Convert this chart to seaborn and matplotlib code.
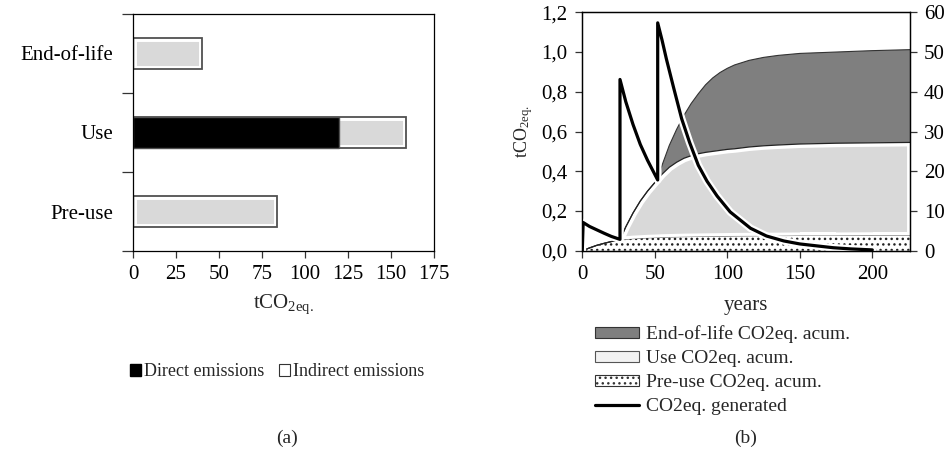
import numpy as np
import pandas as pd
import matplotlib
matplotlib.use("Agg")
import matplotlib.pyplot as plt
import matplotlib.patheffects as pe
from matplotlib.patches import Patch
from matplotlib.lines import Line2D
from matplotlib.ticker import FuncFormatter
import seaborn as sns

# ---------------- data ----------------
# panel (a)
stages = ["End-of-life", "Use", "Pre-use"]
direct = [0, 120, 0]
indirect = [40, 39, 84]
x_ticks_a = [0, 25, 50, 75, 100, 125, 150, 175]

# panel (b) accumulated contributions (tCO2eq.)
years = [0, 5, 10, 15, 20, 26, 30, 35, 40, 45, 52, 55, 60, 65, 70, 75, 80, 85,
         90, 95, 100, 105, 115, 125, 135, 150, 175, 200, 226]
preuse_acum = [0, 0.014, 0.027, 0.037, 0.046, 0.055, 0.058, 0.061, 0.063, 0.065,
               0.067, 0.068, 0.069, 0.070, 0.071, 0.0715, 0.072, 0.0725, 0.073,
               0.0735, 0.074, 0.0745, 0.075, 0.0755, 0.076, 0.077, 0.077, 0.078,
               0.078]
use_acum = [0, 0, 0, 0, 0, 0, 0.062, 0.129, 0.187, 0.235, 0.293, 0.317, 0.351,
            0.375, 0.394, 0.4065, 0.416, 0.4225, 0.427, 0.4315, 0.436, 0.4385,
            0.447, 0.4525, 0.456, 0.46, 0.464, 0.465, 0.467]
eol_acum = [0, 0, 0, 0, 0, 0, 0, 0, 0, 0, 0, 0.045, 0.11, 0.165, 0.215, 0.262,
            0.302, 0.34, 0.37, 0.392, 0.408, 0.422, 0.436, 0.445, 0.451, 0.456,
            0.459, 0.464, 0.467]

# CO2eq generated
gen_years = [0, 0.6, 5, 10, 15, 20, 26, 26, 30, 35, 40, 45, 52, 52, 55, 58, 63,
             68.5, 74, 80, 86, 93, 102, 116, 127, 139, 150, 162, 173, 185, 200]
gen_values = [0, 0.142, 0.122, 0.105, 0.088, 0.072, 0.057, 0.862, 0.75, 0.635,
              0.535, 0.455, 0.356, 1.147, 1.06, 0.965, 0.82, 0.665, 0.545, 0.43,
              0.35, 0.275, 0.195, 0.113, 0.074, 0.049, 0.034, 0.024, 0.015,
              0.009, 0.004]
left_ticks_b = [0, 0.2, 0.4, 0.6, 0.8, 1.0, 1.2]
right_ticks_b = [0, 10, 20, 30, 40, 50, 60]
x_ticks_b = [0, 50, 100, 150, 200]

# ---------------- style ----------------
sns.set_style("ticks")
plt.rcParams["font.family"] = ["Liberation Serif", "DejaVu Serif"]
plt.rcParams["mathtext.fontset"] = "custom"
plt.rcParams["mathtext.rm"] = "Liberation Serif"
plt.rcParams["hatch.linewidth"] = 1.0
plt.rcParams["axes.edgecolor"] = "black"
plt.rcParams["axes.linewidth"] = 0.9
plt.rcParams["xtick.color"] = "#333333"
plt.rcParams["ytick.color"] = "#333333"
plt.rcParams["xtick.labelcolor"] = "black"
plt.rcParams["ytick.labelcolor"] = "black"

FS = 15
fig = plt.figure(figsize=(9.53, 4.54), dpi=100)
ax1 = fig.add_axes([0.1396, 0.4471, 0.3158, 0.5221])
ax2 = fig.add_axes([0.611, 0.4478, 0.3439, 0.5251])

# ---------------- panel (a) ----------------
df = pd.DataFrame({"stage": stages, "direct": direct, "indirect": indirect})
df["total"] = df["direct"] + df["indirect"]

sns.barplot(data=df, x="total", y="stage", orient="h", order=stages,
            color="#d9d9d9", saturation=1, edgecolor="white", linewidth=5,
            width=0.4, ax=ax1)
sns.barplot(data=df, x="total", y="stage", orient="h", order=stages,
            fill=False, color="#505050", linewidth=1.3, width=0.4, ax=ax1)
sns.barplot(data=df, x="direct", y="stage", orient="h", order=stages,
            color="black", saturation=1, edgecolor="#505050", linewidth=1.0,
            width=0.4, ax=ax1)

ax1.set_xlim(x_ticks_a[0], x_ticks_a[-1])
ax1.set_ylim(len(stages) - 0.5, -0.5)
ax1.set_xticks(x_ticks_a)
ax1.set_xticklabels([str(v) for v in x_ticks_a], fontsize=FS)
ax1.set_yticks(np.arange(len(stages) + 1) - 0.5)
ax1.set_yticklabels([])
ax1.set_yticks(np.arange(len(stages)), minor=True)
ax1.set_yticklabels(stages, minor=True, fontsize=FS)
ax1.tick_params(axis="y", which="major", length=8, width=0.9)
ax1.tick_params(axis="y", which="minor", length=0, pad=14)
ax1.tick_params(axis="x", length=5, width=0.9, pad=5)
ax1.set_xlabel(r"$\mathregular{tCO_{2eq.}}$", fontsize=FS, labelpad=6)
ax1.set_ylabel("")
for s in ax1.spines.values():
    s.set_visible(True)

fig.legend(handles=[Patch(facecolor="black", edgecolor="black"),
                    Patch(facecolor="white", edgecolor="#333333", linewidth=0.8)],
           labels=["Direct emissions", "Indirect emissions"],
           loc="center", bbox_to_anchor=(0.291, 0.181), ncol=2, frameon=False,
           fontsize=13, handlelength=0.6, handleheight=0.6, handletextpad=0.2,
           columnspacing=0.8)

# ---------------- panel (b) ----------------
yr = np.array(years, dtype=float)
pre = np.array(preuse_acum)
use_top = pre + np.array(use_acum)
eol_top = use_top + np.array(eol_acum)

# pre-use (dotted)
ax2.fill_between(yr, 0, pre, facecolor="white", edgecolor="#222222",
                 hatch="...", linewidth=0, zorder=1)
ax2.plot(yr, pre, color="#555555", lw=0.8, zorder=1.2)
# use (light gray with inner white glow)
coll = ax2.fill_between(yr, pre, use_top, facecolor="#d9d9d9",
                        edgecolor="white", linewidth=5, zorder=1.5)
coll.set_clip_path(coll.get_paths()[0], ax2.transData)
# end-of-life (dark gray)
ax2.fill_between(yr, use_top, eol_top, facecolor="#7f7f7f", edgecolor="none",
                 zorder=1.4)
ax2.plot(yr, eol_top, color="#333333", lw=0.8, zorder=1.6)
ax2.plot(yr, use_top, color="#222222", lw=0.9, zorder=1.7)

sns.lineplot(x=gen_years, y=gen_values, estimator=None, sort=False,
             color="black", lw=2.3, ax=ax2, zorder=3,
             path_effects=[pe.Stroke(linewidth=5.5, foreground="white"), pe.Normal()])

ax2.set_xlim(0, years[-1])
ax2.set_ylim(left_ticks_b[0], left_ticks_b[-1])
ax2.set_xticks(x_ticks_b)
ax2.set_xticklabels([str(v) for v in x_ticks_b], fontsize=FS)
ax2.set_yticks(left_ticks_b)
ax2.yaxis.set_major_formatter(FuncFormatter(lambda v, p: f"{v:.1f}".replace(".", ",")))
ax2.tick_params(axis="y", labelsize=FS, length=5, width=0.9, pad=6)
ax2.tick_params(axis="x", length=5, width=0.9, pad=5)
ax2.set_xlabel("years", fontsize=FS, labelpad=9)
ax2.set_ylabel(r"$\mathregular{tCO_{2eq.}}$", fontsize=13, labelpad=4)
for s in ax2.spines.values():
    s.set_visible(True)

ax2r = ax2.twinx()
ax2r.set_ylim(right_ticks_b[0], right_ticks_b[-1])
ax2r.set_yticks(right_ticks_b)
ax2r.set_yticklabels([str(v) for v in right_ticks_b], fontsize=FS)
ax2r.tick_params(axis="y", length=5, width=0.9, pad=5)
for s in ax2r.spines.values():
    s.set_visible(True)

fig.legend(handles=[Patch(facecolor="#7f7f7f", edgecolor="#333333", linewidth=0.8),
                    Patch(facecolor="#f2f2f2", edgecolor="#555555", linewidth=0.8),
                    Patch(facecolor="white", edgecolor="#333333", hatch="...", linewidth=0.8),
                    Line2D([], [], color="black", lw=2.3)],
           labels=["End-of-life CO2eq. acum.", "Use CO2eq. acum.",
                   "Pre-use CO2eq. acum.", "CO2eq. generated"],
           loc="upper left", bbox_to_anchor=(0.624, 0.283), frameon=False,
           fontsize=14, handlelength=2.3, handleheight=0.55, handletextpad=0.35,
           labelspacing=0.36, borderaxespad=0, borderpad=0)

fig.text(0.301, 0.035, "(a)", ha="center", va="center", fontsize=14)
fig.text(0.782, 0.035, "(b)", ha="center", va="center", fontsize=14)

fig.savefig("out.png", dpi=100)
